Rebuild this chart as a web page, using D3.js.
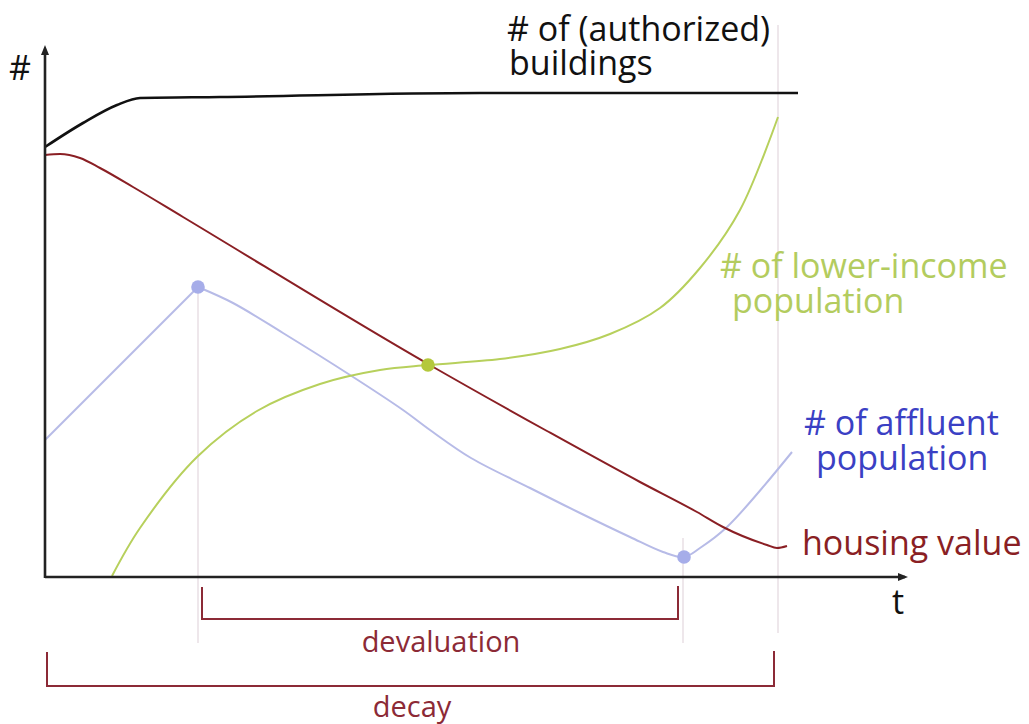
<!DOCTYPE html>
<html lang="en">
<head>
<meta charset="UTF-8">
<title>Housing decay sketch</title>
<script src="https://d3js.org/d3.v7.min.js"></script>
<style>
  body { margin: 0; background: #ffffff; overflow: hidden; }
  svg { display: block; font-family: "Open Sans", "Noto Sans", sans-serif; }
  .guide { stroke: #e9dfe4; stroke-width: 1.5px; fill: none; }
  .series { fill: none; }
  .bracket { fill: none; stroke: #8c2a36; stroke-width: 2px; }
</style>
</head>
<body>
<svg id="chart" width="1029" height="724"></svg>
<script>
// values (t = time, y = "#", arbitrary units)
const buildingsT = [0, 3.8, 7.2, 9.5, 17.5, 43.5, 75.3];
const buildingsY = [43.0, 45.4, 47.2, 47.9, 48.0, 48.4, 48.4];

const housingT = [0, 1.5, 3.5, 5.5, 8.8, 13.8, 38.3, 50.2, 59.5, 65.2, 67.8, 72.2, 73.2, 74.2];
const housingY = [42.2, 42.3, 41.9, 40.9, 39.0, 36.0, 21.3, 14.6, 9.5, 6.5, 5.0, 3.2, 2.9, 3.1];

const affluentT = [0, 15.3, 18.8, 23.8, 30.5, 35.8, 38.5, 42.6, 48.5, 53.5, 58.5, 61.8, 63.9, 65.5, 68.2, 74.7];
const affluentY = [13.7, 29.0, 27.4, 24.4, 20.2, 16.7, 14.7, 11.9, 8.9, 6.4, 4.0, 2.5, 2.0, 2.9, 5.0, 12.5];

const lowerT = [6.7, 9.5, 15.2, 21.2, 27.5, 33.5, 38.3, 45.5, 51.5, 56.5, 61.5, 65.5, 69.5, 73.3];
const lowerY = [0.1, 4.9, 12.0, 16.6, 19.3, 20.7, 21.2, 21.8, 22.8, 24.3, 26.9, 30.9, 36.7, 46.0];

const bracketLabels = ["devaluation", "decay"];
const bracketStart = [15.7, 0.2];
const bracketEnd = [63.3, 72.9];

const svg = d3.select("#chart");

const x = d3.scaleLinear().domain([0, 86]).range([45, 905]);
const y = d3.scaleLinear().domain([0, 53]).range([577, 47]);

const zip = (ts, vs) => ts.map((t, i) => [t, vs[i]]);
const line = curve => d3.line().x(d => x(d[0])).y(d => y(d[1])).curve(curve);

const colors = {
  buildings: "#111111",
  housing: "#8a1f24",
  affluentLine: "#b7bbe7",
  affluentDot: "#a6ade9",
  affluentText: "#3a40c4",
  lower: "#b7d05c",
  lowerDot: "#b4c83c",
  lowerText: "#b3cc5e"
};

// vertical guides: peak of affluent, trough of affluent, end of horizon
svg.append("line").attr("class", "guide")
  .attr("x1", x(affluentT[1])).attr("x2", x(affluentT[1]))
  .attr("y1", y(affluentY[1])).attr("y2", 643);
svg.append("line").attr("class", "guide")
  .attr("x1", x(affluentT[12]) - 1).attr("x2", x(affluentT[12]) - 1)
  .attr("y1", 538).attr("y2", 643);
svg.append("line").attr("class", "guide")
  .attr("x1", x(lowerT[lowerT.length - 1])).attr("x2", x(lowerT[lowerT.length - 1]))
  .attr("y1", 25).attr("y2", 633);

// series
svg.append("path").attr("class", "series")
  .attr("d", line(d3.curveMonotoneX)(zip(buildingsT, buildingsY)))
  .attr("stroke", colors.buildings).attr("stroke-width", 2.6);

const affluent = zip(affluentT, affluentY);
svg.append("path").attr("class", "series")
  .attr("d", line(d3.curveLinear)(affluent.slice(0, 2)))
  .attr("stroke", colors.affluentLine).attr("stroke-width", 2);
svg.append("path").attr("class", "series")
  .attr("d", line(d3.curveCatmullRom.alpha(0.5))(affluent.slice(1)))
  .attr("stroke", colors.affluentLine).attr("stroke-width", 2);

svg.append("path").attr("class", "series")
  .attr("d", line(d3.curveCatmullRom.alpha(0.5))(zip(lowerT, lowerY)))
  .attr("stroke", colors.lower).attr("stroke-width", 2);

svg.append("path").attr("class", "series")
  .attr("d", line(d3.curveMonotoneX)(zip(housingT, housingY)))
  .attr("stroke", colors.housing).attr("stroke-width", 2);

// axes
const [x0, x1] = x.range();
const [y0, y1] = y.range();
svg.append("line").attr("x1", x0).attr("x2", x1).attr("y1", y0).attr("y2", y0)
  .attr("stroke", "#222").attr("stroke-width", 2.6);
svg.append("line").attr("x1", x0).attr("x2", x0).attr("y1", y0 + 1).attr("y2", y1 + 4)
  .attr("stroke", "#222").attr("stroke-width", 2.6);
svg.append("path").attr("d", `M${x1 + 3},${y0} L${x1 - 7},${y0 - 4} L${x1 - 7},${y0 + 4} Z`).attr("fill", "#222");
svg.append("path").attr("d", `M${x0},${y1 - 2} L${x0 - 4},${y1 + 8} L${x0 + 4},${y1 + 8} Z`).attr("fill", "#222");

svg.append("text").attr("x", 9).attr("y", 80).attr("font-size", 34).attr("fill", "#111").text("#");
svg.append("text").attr("x", 892).attr("y", 614).attr("font-size", 34).attr("fill", "#111").text("t");

// markers
const markers = [
  { t: affluentT[1], v: affluentY[1], c: colors.affluentDot },
  { t: affluentT[12], v: affluentY[12], c: colors.affluentDot },
  { t: lowerT[6], v: lowerY[6], c: colors.lowerDot }
];
svg.selectAll("circle.marker").data(markers).enter().append("circle")
  .attr("class", "marker")
  .attr("cx", d => x(d.t)).attr("cy", d => y(d.v)).attr("r", 6.8)
  .attr("fill", d => d.c);

// brackets below the axis
const bracketTop = [587, 652];
const bracketBottom = [619, 686];
const bracketTextY = [652, 717];
bracketLabels.forEach((lab, i) => {
  const a = x(bracketStart[i]), b = x(bracketEnd[i]);
  svg.append("path").attr("class", "bracket")
    .attr("d", `M${a},${bracketTop[i]} V${bracketBottom[i]} H${b} V${bracketTop[i] - 1}`);
  svg.append("text").attr("x", i === 0 ? 441 : 412).attr("y", bracketTextY[i])
    .attr("text-anchor", "middle").attr("font-size", 29).attr("fill", "#8c2a36").text(lab);
});

// series labels
const label = (lines, xs, ys, color) => {
  lines.forEach((t, i) => {
    svg.append("text").attr("x", xs[i]).attr("y", ys[i])
      .attr("font-size", 34).attr("fill", color).text(t);
  });
};
label(["# of (authorized)", "buildings"], [507, 509], [41, 75], "#111");
label(["# of lower-income", "population"], [720, 732], [278, 313], colors.lowerText);
label(["# of affluent", "population"], [804, 816], [435, 470], colors.affluentText);
label(["housing value"], [802], [555], colors.housing);
</script>
</body>
</html>
